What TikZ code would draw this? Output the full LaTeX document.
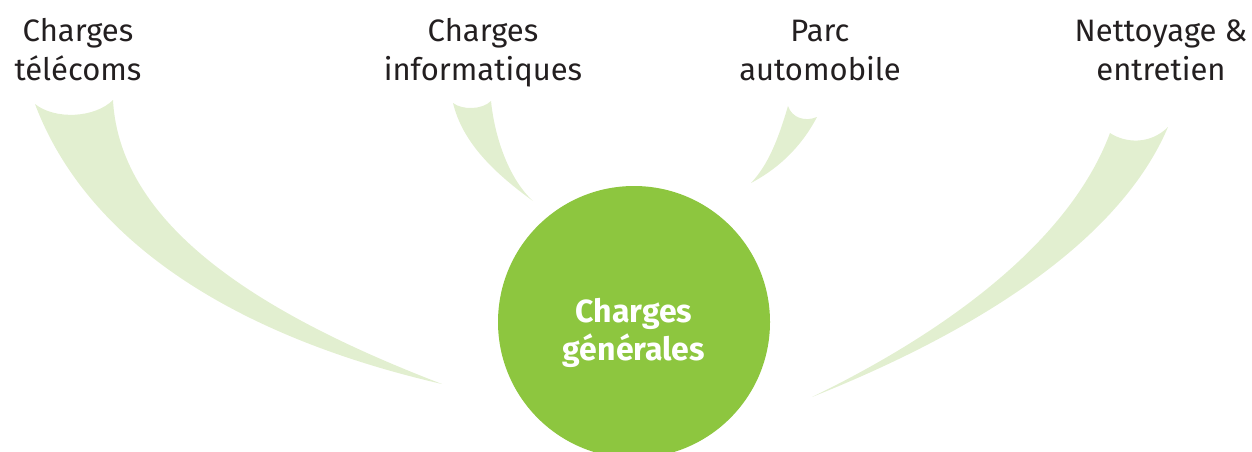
\documentclass[tikz,border=0pt]{standalone}
\usepackage{fontspec}
\setmainfont{Fira Sans}
\usepackage{tikz}
\definecolor{leaf}{RGB}{141,198,63}
\definecolor{pale}{RGB}{226,239,208}
\definecolor{ink}{RGB}{35,31,32}
\tikzset{
  lbl/.style={align=center, inner sep=0pt, anchor=base, text=ink, font=\fontsize{31}{38}\selectfont},
  swoosh/.style={fill=pale, draw=none}
}

\begin{document}
\begin{tikzpicture}[x=1pt,y=-1pt]
\useasboundingbox (0,0) rectangle (1252,452);
\clip (0,0) rectangle (1252,452);

\fill[swoosh] (35,104) .. controls (90,250) and (250,340) .. (442,384)
  .. controls (270,318) and (120,230) .. (113,100)
  .. controls (95,118) and (55,120) .. (35,104) -- cycle;
\fill[swoosh] (453,103) .. controls (462,140) and (490,170) .. (533,201)
  .. controls (510,180) and (495,140) .. (491,101)
  .. controls (482,110) and (462,110) .. (453,103) -- cycle;
\fill[swoosh] (788,106) .. controls (778,140) and (768,165) .. (751,183)
  .. controls (785,165) and (805,140) .. (817,117)
  .. controls (805,122) and (792,118) .. (788,106) -- cycle;
\fill[swoosh] (1110,133) .. controls (1070,240) and (950,330) .. (812,397)
  .. controls (980,330) and (1120,240) .. (1168,127)
  .. controls (1150,145) and (1125,143) .. (1110,133) -- cycle;

\path
(634,322) node[circle, fill=leaf, minimum size=272pt, inner sep=0pt] (gen) {}
(634,360) node[lbl, text=white, font=\bfseries\fontsize{32}{38}\selectfont] (gen-txt) {Charges\\générales}
(78,80) node[lbl] (telecom) {Charges\\télécoms}
(483,80) node[lbl] (info) {Charges\\informatiques}
(820,80) node[lbl] (auto) {Parc\\automobile}
(1161,80) node[lbl] (nett) {Nettoyage \&\\entretien};
\end{tikzpicture}
\end{document}
